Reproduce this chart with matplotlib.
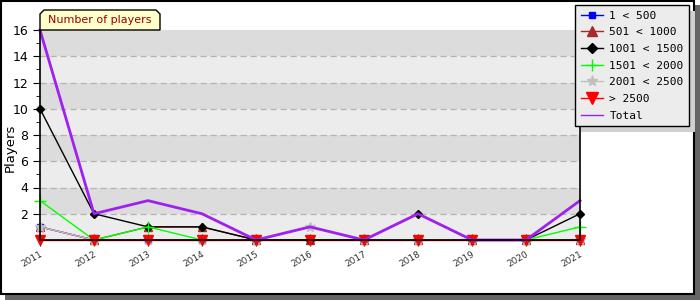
import matplotlib
matplotlib.use("Agg")
import matplotlib.pyplot as plt
from matplotlib.patches import Rectangle, Polygon
from matplotlib.lines import Line2D

years = [2011, 2012, 2013, 2014, 2015, 2016, 2017, 2018, 2019, 2020, 2021]
s_1_500 = [1, 0, 0, 0, 0, 0, 0, 0, 0, 0, 0]
s_501_1000 = [1, 0, 1, 1, 0, 0, 0, 0, 0, 0, 0]
s_1001_1500 = [10, 2, 1, 1, 0, 0, 0, 2, 0, 0, 2]
s_1501_2000 = [3, 0, 1, 0, 0, 0, 0, 0, 0, 0, 1]
s_2001_2500 = [1, 0, 0, 0, 0, 1, 0, 0, 0, 0, 0]
s_2500 = [0, 0, 0, 0, 0, 0, 0, 0, 0, 0, 0]
total = [16, 2, 3, 2, 0, 1, 0, 2, 0, 0, 3]
labels = ["1 < 500", "501 < 1000", "1001 < 1500", "1501 < 2000", "2001 < 2500", "> 2500", "Total"]
title = "Number of players"
ylabel = "Players"

W, H = 700, 300
fig = plt.figure(figsize=(7, 3), dpi=100)
fig.patch.set_facecolor("white")

# frame + shadow
fig.patches.append(Rectangle((5 / W, 0), (W - 5) / W, (H - 5) / H, transform=fig.transFigure,
                             facecolor="#666666", edgecolor="none", zorder=0))
fig.patches.append(Rectangle((1 / W, 6 / H), 693 / W, 293 / H, transform=fig.transFigure,
                             facecolor="white", edgecolor="black", linewidth=1.5, zorder=1))

ax = fig.add_axes([40 / W, 60 / H, 540 / W, 210 / H])
ax.set_zorder(2)
ax.set_facecolor("#ececec")
for lo in [2, 6, 10, 14]:
    ax.axhspan(lo, lo + 2, color="#dcdcdc", zorder=0, linewidth=0)
for y in range(2, 16, 2):
    ax.axhline(y, color="#b4b4b4", linestyle=(0, (5, 3)), linewidth=0.9, zorder=0.5)

styles = [
    (s_1_500, dict(color="#0000ff", marker="s", markersize=5), 5),
    (s_501_1000, dict(color="#a52a2a", marker="^", markersize=6), 7),
    (s_1001_1500, dict(color="black", marker="D", markersize=4), 5),
    (s_1501_2000, dict(color="#00ff00", marker="+", markersize=8, mew=1), 9),
    (s_2001_2500, dict(color="#c0c0c0", marker="*", markersize=7), 8),
    (s_2500, dict(color="#ff0000", marker="v", markersize=7), 8),
]
handles = []
for data, st, lms in styles:
    ax.plot(years, data, clip_on=False, zorder=3, lw=1, **st)
    hst = dict(st)
    hst["markersize"] = lms
    handles.append(Line2D([], [], lw=1, **hst))
ax.plot(years, total, color="#a020f0", lw=2, zorder=4, clip_on=False)
handles.append(Line2D([], [], color="#a020f0", lw=1))

ax.set_xlim(2011, 2021)
ax.set_ylim(0, 16)
ax.set_xticks(years)
ax.set_xticklabels([str(y) for y in years], rotation=30, fontsize=6.5, color="#333333", ha="right",
                   rotation_mode="anchor")
ax.set_yticks(range(2, 17, 2))
ax.set_yticks(range(1, 16, 2), minor=True)
ax.tick_params(axis="y", which="major", direction="out", length=5, labelsize=9)
ax.tick_params(axis="y", which="minor", direction="out", length=3)
ax.tick_params(axis="x", direction="inout", length=8, pad=3)
ax.spines["top"].set_visible(False)
for s in ["left", "bottom", "right"]:
    ax.spines[s].set_linewidth(1.2)
    ax.spines[s].set_zorder(5)
ax.set_ylabel(ylabel, fontsize=9.5)
ax.yaxis.set_label_coords(-23 / 540, 0.44)

# title tab
x0, x1, y0, y1 = 40 / W, 160 / W, (H - 30) / H, (H - 10) / H
c = 4
poly = Polygon([(x0, y0), (x0, y1 - c / H), (x0 + c / W, y1), (x1 - c / W, y1), (x1, y1 - c / H), (x1, y0)],
               closed=True, transform=fig.transFigure, facecolor="#ffffcc", edgecolor="black",
               linewidth=1, zorder=5)
fig.patches.append(poly)
fig.text((x0 + x1) / 2, (y0 + y1) / 2, title, ha="center", va="center", fontsize=8,
         color="#990000", zorder=6)

# legend with shadow
lx0, ly1 = 575 / W, (H - 5) / H
leg = fig.legend(handles, labels, loc="upper left", bbox_to_anchor=(lx0, ly1),
                 bbox_transform=fig.transFigure, frameon=True, fancybox=False,
                 prop={"family": "DejaVu Sans Mono", "size": 8}, handlelength=2.0,
                 labelspacing=0.6, borderpad=0.5, handletextpad=0.6, borderaxespad=0)
leg.get_frame().set_facecolor("#ececec")
leg.get_frame().set_edgecolor("black")
leg.get_frame().set_alpha(1)
leg.set_zorder(7)
fig.canvas.draw()
bb = leg.get_window_extent().transformed(fig.transFigure.inverted())
fig.patches.append(Rectangle((bb.x0 + 6 / W, bb.y0 - 6 / H), bb.width, bb.height, transform=fig.transFigure,
                             facecolor="#d0d0d0", edgecolor="none", zorder=6))

fig.savefig("out.png", dpi=100)
